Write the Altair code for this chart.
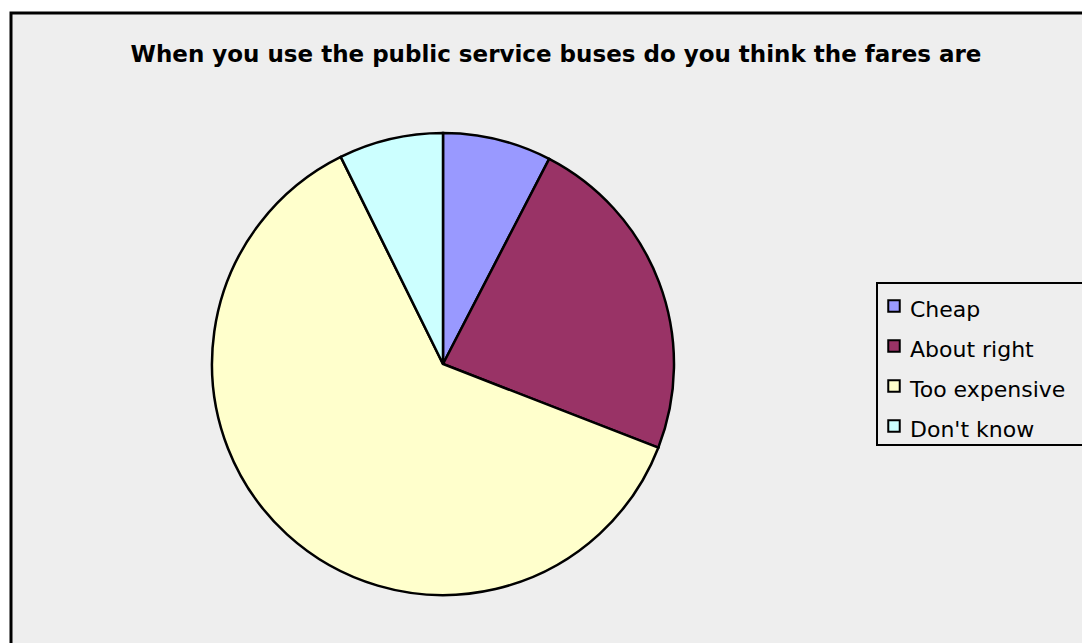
import altair as alt
import pandas as pd

categories = ["Cheap", "About right", "Too expensive", "Don't know"]
shares = [7.6, 23.3, 61.8, 7.3]
colors = ["#9999FF", "#993366", "#FFFFCC", "#CCFFFF"]
title_text = "When you use the public service buses do you think the fares are"

df = pd.DataFrame({"category": categories, "share": shares,
                   "order": list(range(len(categories)))})
one = alt.Data(values=[{"t": title_text}])

color_scale = alt.Scale(domain=categories, range=colors)
ly = alt.Y("category:N", axis=None,
           scale=alt.Scale(type="point", domain=categories, range=[306, 426], padding=0))

frame = alt.Chart(one).mark_rect(fill="#EEEEEE", stroke="black", strokeWidth=3, clip=True).encode(
    x=alt.value(11), x2=alt.value(1300), y=alt.value(13), y2=alt.value(900))

title = alt.Chart(one).mark_text(font="DejaVu Sans", fontSize=23, fontWeight="bold",
                                 align="center", baseline="alphabetic", color="black").encode(
    x=alt.value(556), y=alt.value(62), text="t:N")

pie = alt.Chart(df).mark_arc(radius=231, stroke="black", strokeWidth=2.5).encode(
    theta=alt.Theta("share:Q", stack=True),
    color=alt.Color("category:N", scale=color_scale, legend=None),
    order=alt.Order("order:Q"),
    x=alt.value(443), y=alt.value(364))

box = alt.Chart(one).mark_rect(fill="#EEEEEE", stroke="black", strokeWidth=2, clip=True).encode(
    x=alt.value(877), x2=alt.value(1300), y=alt.value(283), y2=alt.value(445))

sq = alt.Chart(df).mark_square(size=132, stroke="black", strokeWidth=2, opacity=1).encode(
    x=alt.value(894), y=ly,
    color=alt.Color("category:N", scale=color_scale, legend=None))

lt = alt.Chart(df).mark_text(font="DejaVu Sans", fontSize=22, align="left",
                             baseline="alphabetic", dy=11, color="black").encode(
    x=alt.value(910), y=ly, text="category:N")

chart = alt.layer(frame, pie, title, box, sq, lt).properties(
    width=1082, height=643, autosize=alt.AutoSizeParams(type="none"), padding=0,
    background="white"
).configure_view(strokeWidth=0)

chart.save("out.html", embed_options={"renderer": "svg", "actions": False})
